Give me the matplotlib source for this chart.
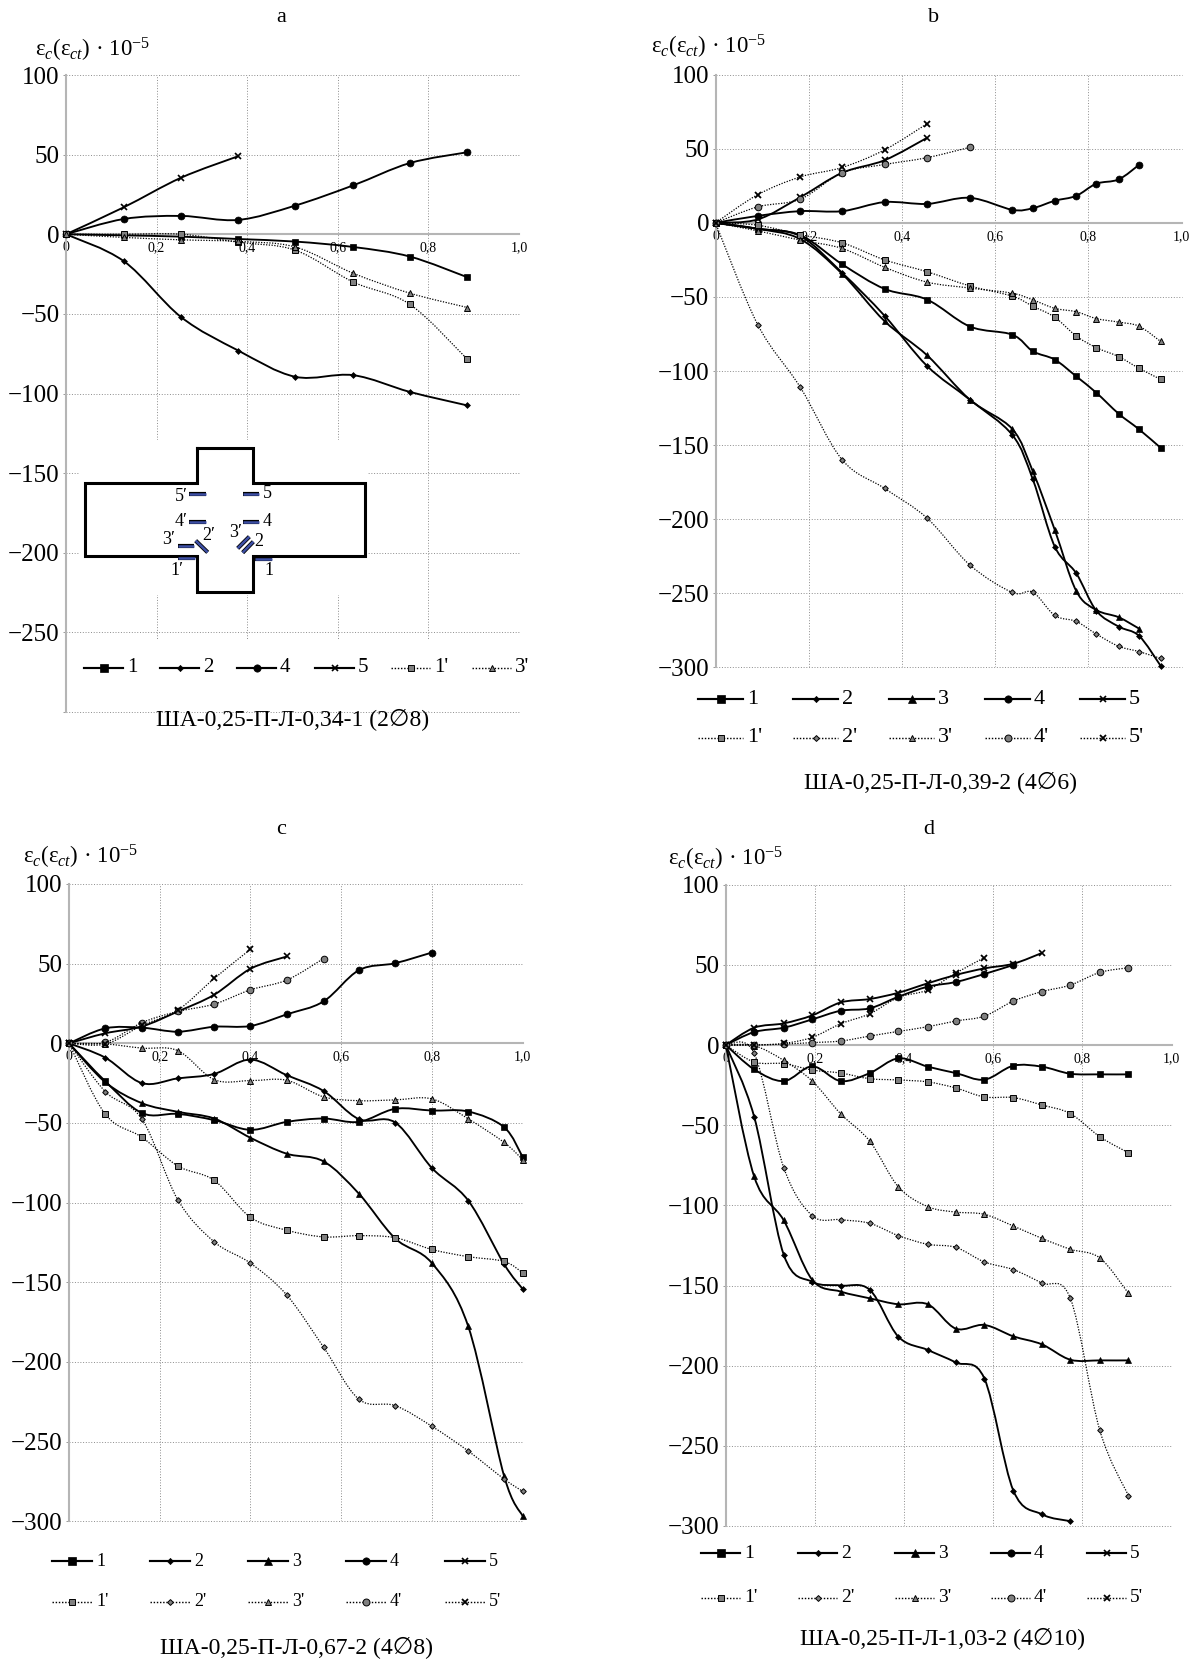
import matplotlib
matplotlib.use('Agg')
import matplotlib.pyplot as plt
from matplotlib.path import Path
from matplotlib.patches import PathPatch, Rectangle
from matplotlib.lines import Line2D

plt.rcParams['font.family'] = ['Liberation Serif', 'DejaVu Sans']
plt.rcParams['mathtext.fontset'] = 'custom'
plt.rcParams['mathtext.rm'] = 'Liberation Serif'
plt.rcParams['mathtext.it'] = 'Liberation Serif:italic'

W, H = 1196, 1662

# Panel a
a_x = [0, .128, .254, .38, .506, .634, .759, .886]
a_1 = [0, -0.7, -1.5, -3, -4.6, -8, -14, -27]
a_2 = [0, -17, -52, -73, -89.5, -88.5, -99, -107.5]
a_4 = [0, 9.6, 11.5, 9, 18, 30.7, 44.7, 51.5]
a_5 = [0, 17, 35.5, 49]
a_1p = [0, 0, 0, -5, -10, -30, -44, -78.5]
a_3p = [0, -2, -3.5, -4.5, -8, -24.5, -37, -46]

# Panel b
b_x = [0, .0906, .182, .272, .363, .454, .546, .637, .681, .728, .774, .817, .865, .909, .955]
b_1 = [0, -4, -8.3, -28, -44.6, -51.8, -70, -75.5, -86.7, -92.3, -103.6, -114.6, -128.8, -139.4, -151.8]
b_2 = [0, -4, -9, -33.8, -62.8, -96.6, -119.4, -143.2, -173.2, -218.5, -236.5, -261.7, -272.5, -278.8, -298.9]
b_3 = [0, -4, -11, -34.5, -66.4, -89.4, -119.4, -139.2, -167.8, -207.2, -248.4, -261.3, -266.2, -273.9]
b_4 = [0, 4.7, 7.9, 7.9, 14, 12.8, 16.9, 8.8, 9.9, 14.9, 18.2, 26.4, 29.3, 39.2]
b_5 = [0, 2.3, 17.3, 33.8, 42.3, 57.4]
b_1p = [0, -1.6, -8, -13.5, -25, -33, -42.6, -49.5, -56.3, -63.7, -76.4, -84.2, -90.3, -98.2, -105.6]
b_2p = [0, -68.7, -111, -160, -179.3, -199.3, -231, -249.5, -249.3, -265, -269, -277.5, -285.8, -289.4, -294]
b_3p = [0, -5.4, -11.7, -17.3, -30, -40, -44, -47.5, -52, -57.7, -60, -64.6, -67, -69.8, -80]
b_4p = [0, 10.8, 16, 33.8, 39.4, 44, 51]
b_5p = [0, 19, 31, 37.4, 49.3, 66.9]

# Panel c
c_x = [0, .08, .161, .24, .32, .40, .48, .561, .639, .719, .80, .88, .959, 1.0]
c_1 = [0, -23.8, -43.8, -44.3, -48.2, -54.3, -49.3, -47.2, -49.3, -41.1, -42.2, -42.8, -52.6, -71.4]
c_2 = [0, -9, -25, -22, -19.2, -10.2, -20, -29.9, -47.6, -49.7, -78.3, -98.7, -138.6, -154.2]
c_3 = [0, -24.4, -37.6, -43, -47.2, -59.3, -69.3, -74.1, -94.4, -122.5, -138, -177.7, -271.6, -296.8]
c_4 = [0, 9.4, 9.8, 7.3, 10.4, 10.9, 18.2, 26.3, 45.9, 50.3, 57]
c_5 = [0, 6.3, 10.6, 20, 30.5, 46.8, 54.5]
c_1p = [0, -44.5, -59, -77, -86, -109.2, -117.3, -121.5, -120.7, -122, -129.4, -133.9, -136.9, -144]
c_2p = [0, -30.3, -47.6, -98.3, -124.6, -138, -158, -190.7, -223.4, -227.4, -240.4, -255.9, -273.5, -281.2]
c_3p = [0, -0.4, -3, -4.6, -22.8, -23.4, -23.2, -33.6, -36, -35.5, -34.9, -47.4, -62.2, -73]
c_4p = [0, 0.6, 13, 20, 24.6, 33.6, 39.7, 53.2]
c_5p = [0, -0.5, 11.3, 20.9, 40.7, 59]

# Panel d
d_x = [0, .0636, .13, .194, .258, .323, .387, .453, .516, .58, .645, .709, .773, .839, .903]
d_1 = [0, -15.2, -22.5, -13.3, -22.5, -17.5, -8.3, -13.5, -17.5, -21.6, -12.9, -13.5, -17.9, -18.3, -18.3]
d_2 = [0, -44.7, -130.8, -147.7, -150, -152.7, -181.9, -190.2, -198, -208, -277.9, -292.7, -297]
d_3 = [0, -82, -109.4, -146.5, -153.8, -158, -161.7, -161.7, -176.9, -174.6, -181.7, -186.7, -196.3, -196.7, -196.7]
d_4 = [0, 8.1, 10.8, 16, 21.4, 22.9, 30.1, 36.4, 39.3, 44.3, 49.9]
d_5 = [0, 10.8, 13.5, 18.5, 26.6, 28.7, 32.6, 38.5, 43.7, 47.8, 50.7, 57.4]
d_1p = [0, -10.6, -11.6, -15.6, -17.5, -21, -21.8, -23, -26.8, -32.4, -32.8, -37.4, -42.8, -57.2, -67.2]
d_2p = [0, -5.2, -76.5, -106.4, -108.9, -111.2, -118.9, -124.3, -126.2, -135.3, -140.1, -148.5, -158.1, -240.4, -281]
d_3p = [0, -0.4, -9.6, -22.5, -43, -60, -88.4, -100.8, -104.2, -105.6, -112.9, -120.6, -127.4, -132.8, -154.8]
d_4p = [0, 0, 0.6, 1.5, 2.5, 5.6, 8.5, 11.4, 15, 18, 27.4, 33.3, 37.4, 45.3, 48.2]
d_5p = [0, 0, 1, 4.8, 13.3, 19.5, 29.7, 34.3, 44.9, 54.5]

x_ticks = [0, .2, .4, .6, .8, 1.0]
x_tick_labels = ['0', '0,2', '0,4', '0,6', '0,8', '1,0']
y_ticks = [100, 50, 0, -50, -100, -150, -200, -250, -300]

captions = ['ША-0,25-П-Л-0,34-1 (2∅8)', 'ША-0,25-П-Л-0,39-2 (4∅6)',
            'ША-0,25-П-Л-0,67-2 (4∅8)', 'ША-0,25-П-Л-1,03-2 (4∅10)']
y_label = r'ε$_{c}$(ε$_{ct}$) · 10$^{\mathrm{−5}}$'

MARKERS = {'1': ('s', 5), '2': ('D', 3), '3': ('^', 5), '4': ('o', 5), '5': ('x', 4.5)}
GAUGE = '#3d4fa5'


def style_of(name):
    '''Returns the line and marker settings for a gauge name such as 2 or 2'.'''
    marker, size = MARKERS[name[0]]
    if name.endswith("'"):
        return dict(color='black', lw=0.9, ls=(0, (1, 1.2)), marker=marker, ms=size * 0.95,
                    mfc='#808080' if marker != 'x' else 'black', mec='black',
                    mew=1.3 if marker == 'x' else 0.7)
    return dict(color='black', lw=1.35, ls='-', marker=marker, ms=size,
                mfc='black', mec='black', mew=1.2 if marker == 'x' else 0.5)


def smooth_path(x, y):
    '''Bezier path through the points, the way a spreadsheet smooths its lines.'''
    verts = [(x[0], y[0])]
    codes = [Path.MOVETO]
    n = len(x)
    for i in range(n - 1):
        i0, i3 = max(i - 1, 0), min(i + 2, n - 1)
        verts.append((x[i] + (x[i + 1] - x[i0]) / 6, y[i] + (y[i + 1] - y[i0]) / 6))
        verts.append((x[i + 1] - (x[i3] - x[i]) / 6, y[i + 1] - (y[i3] - y[i]) / 6))
        verts.append((x[i + 1], y[i + 1]))
        codes += [Path.CURVE4] * 3
    return Path(verts, codes)


def draw_panel(box, x, series, hide_last=False):
    '''Draws one panel in the pixel box (x0, x1, y100, y-300).'''
    x0, x1, top, bottom = box
    ax = fig.add_axes([x0 / W, 1 - bottom / H, (x1 - x0) / W, (bottom - top) / H])
    ax.set_xlim(0, 1)
    ax.set_ylim(-300, 100)
    for name, y in series:
        st = style_of(name)
        xs = x[:len(y)]
        ax.add_patch(PathPatch(smooth_path(xs, y), fill=False, ec=st['color'], lw=st['lw'],
                               ls=st['ls'], zorder=3, clip_on=False))
        ax.plot(xs, y, ls='none', marker=st['marker'], ms=st['ms'], mfc=st['mfc'], mec=st['mec'],
                mew=st['mew'], zorder=4, clip_on=False)
    ax.set_xticks(x_ticks)
    ax.set_xticklabels(x_tick_labels, fontsize=10, color='#222222')
    ax.set_yticks(y_ticks)
    ax.set_yticklabels([str(v).replace('-', '−') if not (hide_last and v == -300) else ''
                        for v in y_ticks], fontsize=18)
    ax.tick_params(axis='x', length=0, pad=5)
    ax.tick_params(axis='y', length=2.5, width=0.7, color='#999999', pad=2)
    ax.grid(True, color='#8c8c8c', lw=0.7, ls=(0, (1, 1.8)))
    for gl in ax.get_xgridlines() + ax.get_ygridlines():
        gl.set_clip_on(False)
    ax.set_axisbelow(True)
    ax.spines['bottom'].set_position(('data', 0))
    for side in ['top', 'right']:
        ax.spines[side].set_visible(False)
    for side in ['left', 'bottom']:
        ax.spines[side].set_color('#b5b5b5')
        ax.spines[side].set_linewidth(1.5)
    return ax


def draw_legend(over, names, rows, starts, line_w, label_gap, size):
    '''Legend drawn by hand, the entries of the original are not evenly spaced.'''
    for k, name in enumerate(names):
        row = rows[1] if name.endswith("'") and len(rows) > 1 else rows[0]
        start = starts[k % len(starts)]
        st = style_of(name)
        over.add_line(Line2D([start, start + line_w], [row, row], color=st['color'],
                             lw=st['lw'] * 1.15, ls=st['ls']))
        over.plot([start + line_w / 2], [row], ls='none', marker=st['marker'],
                  ms=st['ms'] * 1.05, mfc=st['mfc'], mec=st['mec'], mew=st['mew'])
        over.text(start + line_w + label_gap, row, name, fontsize=size, va='center', ha='left')


def draw_scheme(over):
    '''The specimen sketch with the gauges, inset of panel a.'''
    px = lambda zx: 40 + zx / 3
    py = lambda zy: 420 + zy / 3
    over.add_patch(Rectangle((79, 440), 289, 155, fc='white', ec='none', zorder=1))
    outline_x = [470, 638, 638, 975, 975, 638, 638, 470, 470, 135, 135, 470, 470]
    outline_y = [85, 85, 190, 190, 407, 407, 515, 515, 407, 407, 190, 190, 85]
    over.plot([px(v) for v in outline_x], [py(v) for v in outline_y], color='black', lw=2.2,
              solid_joinstyle='miter', zorder=2)
    bars = [(448, 223, 498, 223), (610, 223, 657, 223), (448, 307, 498, 307), (610, 307, 657, 307),
            (413, 378, 463, 378), (415, 415, 465, 415), (645, 416, 695, 416), (467, 362, 503, 397),
            (593, 385, 628, 350), (608, 398, 640, 365)]
    for xa, ya, xb, yb in bars:
        over.plot([px(xa), px(xb)], [py(ya), py(yb)], color='black', lw=3.0, solid_capstyle='butt', zorder=3)
        over.plot([px(xa), px(xb)], [py(ya), py(yb)], color=GAUGE, lw=1.8, solid_capstyle='butt', zorder=4)
    labels = [('5′', 425, 230), ('5', 682, 220), ('4′', 424, 304), ('4', 682, 305), ('3′', 385, 360),
              ('2′', 505, 345), ('3′', 588, 338), ('2', 655, 366), ('1′', 412, 452), ('1', 687, 452)]
    for text, zx, zy in labels:
        over.text(px(zx), py(zy), text, fontsize=13, ha='center', va='center', zorder=5)


fig = plt.figure(figsize=(W / 100, H / 100), dpi=100)

draw_panel((66, 519, 75, 712), a_x,
           [('1', a_1), ('2', a_2), ('4', a_4), ('5', a_5), ("1'", a_1p), ("3'", a_3p)], hide_last=True)
draw_panel((715.5, 1181.5, 74.7, 667.3), b_x,
           [('1', b_1), ('2', b_2), ('3', b_3), ('4', b_4), ('5', b_5),
            ("1'", b_1p), ("2'", b_2p), ("3'", b_3p), ("4'", b_4p), ("5'", b_5p)])
draw_panel((69, 522.7, 884, 1521.3), c_x,
           [('1', c_1), ('2', c_2), ('3', c_3), ('4', c_4), ('5', c_5),
            ("1'", c_1p), ("2'", c_2p), ("3'", c_3p), ("4'", c_4p), ("5'", c_5p)])
draw_panel((725.8, 1171.6, 884.7, 1526), d_x,
           [('1', d_1), ('2', d_2), ('3', d_3), ('4', d_4), ('5', d_5),
            ("1'", d_1p), ("2'", d_2p), ("3'", d_3p), ("4'", d_4p), ("5'", d_5p)])

# everything outside the plot areas goes on a full page axes in pixel units
over = fig.add_axes([0, 0, 1, 1])
over.set_xlim(0, W)
over.set_ylim(H, 0)
over.axis('off')
over.patch.set_alpha(0)

over.add_patch(Rectangle((67.5, 640), 460, 71, fc='white', ec='none', zorder=1))
draw_scheme(over)

all_names = ['1', '2', '3', '4', '5', "1'", "2'", "3'", "4'", "5'"]
draw_legend(over, ['1', '2', '4', '5', "1'", "3'"], [668], [84, 160, 237, 315, 391, 472], 39, 4, 15)
draw_legend(over, all_names, [699, 738], [698, 793, 889, 985, 1080], 45, 4, 16)
draw_legend(over, all_names, [1561, 1602], [52, 150, 248, 346, 445], 40, 4, 13)
draw_legend(over, all_names, [1553, 1598], [701, 798, 895, 991, 1087], 39, 4, 14)

for text, cx, cy in zip(captions, [293, 940, 296, 942], [720, 783, 1648, 1639]):
    over.text(cx, cy, text, fontsize=17, ha='center', va='center')
for text, cx, cy in zip('abcd', [281, 934, 281, 929], [17, 17, 830, 829]):
    over.text(cx, cy, text, fontsize=16, ha='center', va='center')
for lx, ly in zip([35, 651, 23, 668], [50, 47, 857, 859]):
    over.text(lx, ly, y_label, fontsize=16.5, ha='left', va='center')

fig.savefig('out.png', dpi=100, facecolor='white')
